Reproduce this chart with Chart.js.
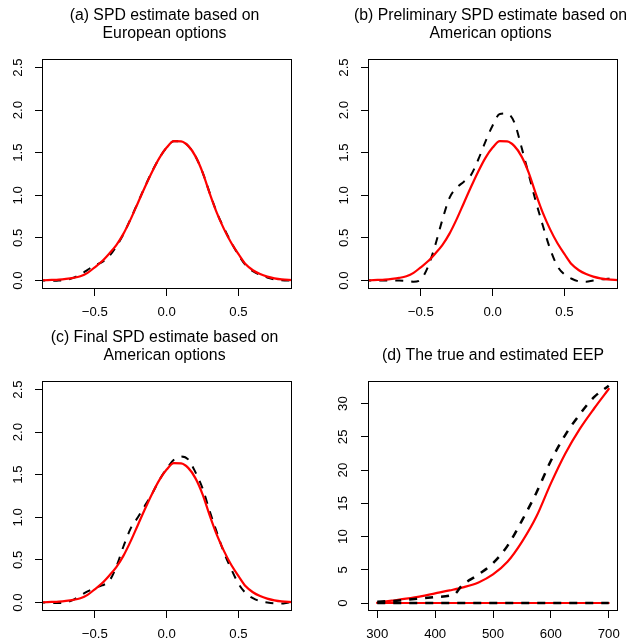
<!DOCTYPE html>
<html>
<head>
<meta charset="utf-8">
<script src="https://cdn.jsdelivr.net/npm/chart.js@4.4.1/dist/chart.umd.min.js"></script>
<style>
  html, body { margin: 0; padding: 0; background: #fff; overflow: hidden; }
  body { width: 629px; height: 644px; position: relative; }
  canvas { position: absolute; }
</style>
</head>
<body>
<canvas id="pa" width="314" height="322" style="left:0px;top:0px"></canvas>
<canvas id="pb" width="315" height="322" style="left:314px;top:0px"></canvas>
<canvas id="pc" width="314" height="322" style="left:0px;top:322px"></canvas>
<canvas id="pd" width="315" height="322" style="left:314px;top:322px"></canvas>
<script>
// ---- data ----
const spdX = [-0.90,-0.85,-0.80,-0.75,-0.70,-0.65,-0.60,-0.55,-0.50,-0.45,-0.40,-0.35,-0.30,-0.25,-0.20,-0.15,-0.10,-0.05,
  0.00,0.05,0.10,0.15,0.20,0.25,0.30,0.35,0.40,0.45,0.50,0.55,0.60,0.65,0.70,0.75,0.80,0.85,0.90];
const trueSpd = [0.002,0.003,0.006,0.010,0.018,0.030,0.050,0.090,0.155,0.225,0.315,0.415,0.550,0.720,0.910,1.100,1.280,1.440,
  1.560,1.635,1.632,1.580,1.460,1.270,1.020,0.790,0.600,0.440,0.310,0.190,0.120,0.075,0.045,0.025,0.012,0.006,0.004];
const europeanSpd = [0.000,0.000,-0.005,0.000,0.006,0.030,0.070,0.125,0.180,0.215,0.285,0.400,0.545,0.725,0.915,1.105,1.285,1.440,
  1.560,1.635,1.632,1.580,1.460,1.270,1.025,0.795,0.610,0.445,0.300,0.180,0.110,0.065,0.035,0.012,0.002,0.000,0.005];
const prelimAmericanSpd = [0.000,0.000,0.000,0.000,0.000,0.000,-0.005,-0.015,0.010,0.160,0.410,0.710,0.970,1.090,1.160,1.240,1.420,1.630,
  1.820,1.955,1.960,1.860,1.570,1.250,0.930,0.640,0.370,0.170,0.070,0.020,-0.010,-0.015,0.000,0.012,0.020,0.035,0.045];
const finalAmericanSpd = [0.000,0.000,-0.005,-0.005,0.000,0.030,0.080,0.130,0.170,0.200,0.250,0.420,0.660,0.870,1.000,1.140,1.280,1.440,
  1.570,1.675,1.715,1.680,1.530,1.340,1.070,0.820,0.580,0.390,0.220,0.110,0.050,0.015,0.000,-0.010,-0.012,0.000,0.005];

const trueStrike = [300,325,350,375,400,425,450,475,500,525,550,575,600,625,650,675,700];
const trueEep = [0.05,0.35,0.65,1.0,1.45,1.9,2.4,3.1,4.3,6.2,9.2,13.0,18.0,22.5,26.2,29.3,32.2];
const estStrike = [300,325,350,375,400,425,435,445,475,500,525,550,575,600,625,650,675,700];
const estEep = [0.2,0.3,0.5,0.7,0.9,1.1,1.4,2.5,4.3,6.0,8.6,12.4,16.6,21.4,25.3,28.4,31.0,32.7];
const zeroStrike = [300,700];
const zeroEep = [0,0];

const densityTicks = [0,0.5,1.0,1.5,2.0,2.5];
const returnTicks = [-0.5,0,0.5];
const eepTicks = [0,5,10,15,20,25,30];
const strikeTicks = [300,400,500,600,700];

const titles = {
  a: ["(a) SPD estimate based on", "European options"],
  b: ["(b) Preliminary SPD estimate based on", "American options"],
  c: ["(c) Final SPD estimate based on", "American options"],
  d: ["(d) The true and estimated EEP"]
};

// ---- helpers ----
const FONT = "'Liberation Sans', Arial, Helvetica, sans-serif";
const pts = (xs, ys) => xs.map((x, i) => ({x: x, y: ys[i]}));
const fmt1 = v => (v < 0 ? '\u2212' + Math.abs(v).toFixed(1) : v.toFixed(1));

const framePlugin = {
  id: 'frame',
  afterDatasetsDraw(chart) {
    const a = chart.chartArea, ctx = chart.ctx;
    ctx.save();
    ctx.strokeStyle = '#000';
    ctx.lineWidth = 1;
    const l = Math.round(a.left) + 0.5, t = Math.round(a.top) + 0.5;
    const r = Math.round(a.right) - 0.5, b = Math.round(a.bottom) - 0.5;
    ctx.strokeRect(l, t, r - l, b - t);
    ctx.restore();
  }
};

// panel title centred over the plot region (R "main" style), lines stacked upward from the frame
const panelTitlePlugin = {
  id: 'panelTitle',
  afterDraw(chart, args, opts) {
    const a = chart.chartArea, ctx = chart.ctx;
    const lines = opts.text || [];
    const cx = (a.left + a.right) / 2 - (lines.length > 1 ? 2.5 : 0);
    ctx.save();
    ctx.fillStyle = '#000';
    ctx.font = '15.8px ' + FONT;
    ctx.textAlign = 'center';
    ctx.textBaseline = 'middle';
    const n = lines.length;
    lines.forEach((s, i) => {
      const y = a.top - 25 - (n - 1 - i) * 18;
      ctx.fillText(s, cx, y);
    });
    ctx.restore();
  }
};

function redSet(data) {
  return { data: data, borderColor: '#ff0000', borderWidth: 2.2, showLine: true, pointRadius: 0,
    cubicInterpolationMode: 'monotone', borderCapStyle: 'round', borderJoinStyle: 'round', clip: 0, fill: false };
}
function dashSet(data, w) {
  return { data: data, borderColor: '#000000', borderWidth: w || 2, borderDash: [8, 8], showLine: true, pointRadius: 0,
    cubicInterpolationMode: 'monotone', borderCapStyle: 'butt', clip: 0, fill: false };
}

function makeChart(id, cfg) {
  const tickFont = { family: FONT, size: 13.2 };
  new Chart(document.getElementById(id), {
    type: 'scatter',
    data: { datasets: cfg.datasets },
    options: {
      responsive: false,
      animation: false,
      devicePixelRatio: 1,
      events: [],
      layout: { padding: { left: 0, right: cfg.padRight, top: 59, bottom: 0 } },
      plugins: {
        legend: { display: false },
        tooltip: { enabled: false },
        title: { display: false },
        panelTitle: { text: cfg.title }
      },
      scales: {
        x: {
          type: 'linear',
          min: cfg.xMin, max: cfg.xMax,
          grid: { display: true, drawOnChartArea: false, drawTicks: true, tickLength: 7, color: '#000', lineWidth: 1 },
          border: { display: false },
          ticks: { color: '#000', font: tickFont, padding: 8.3, maxRotation: 0, autoSkip: false, callback: cfg.xFmt },
          afterBuildTicks: s => { s.ticks = cfg.xTicks.map(v => ({ value: v })); },
          afterFit: s => { s.height = 33; }
        },
        y: {
          type: 'linear',
          min: cfg.yMin, max: cfg.yMax,
          grid: { display: true, drawOnChartArea: false, drawTicks: true, tickLength: 7, color: '#000', lineWidth: 1 },
          border: { display: false },
          ticks: { color: '#000', font: tickFont, padding: cfg.yPad, minRotation: 90, maxRotation: 90,
            crossAlign: 'center', autoSkip: false, callback: cfg.yFmt },
          afterBuildTicks: s => { s.ticks = cfg.yTicks.map(v => ({ value: v })); },
          afterFit: s => { s.width = cfg.yWidth; }
        }
      }
    },
    plugins: [framePlugin, panelTitlePlugin]
  });
}

const spdCommon = { xMin: -0.867, xMax: 0.872, yMin: -0.1, yMax: 2.6, xTicks: returnTicks, yTicks: densityTicks,
  xFmt: v => fmt1(v), yFmt: v => fmt1(v), yPad: 7.8 };

makeChart('pa', Object.assign({}, spdCommon, { title: titles.a, padRight: 22, yWidth: 42,
  datasets: [redSet(pts(spdX, trueSpd)), dashSet(pts(spdX, europeanSpd))] }));
makeChart('pb', Object.assign({}, spdCommon, { title: titles.b, padRight: 11, yWidth: 54,
  datasets: [redSet(pts(spdX, trueSpd)), dashSet(pts(spdX, prelimAmericanSpd))] }));
makeChart('pc', Object.assign({}, spdCommon, { title: titles.c, padRight: 22, yWidth: 42,
  datasets: [redSet(pts(spdX, trueSpd)), dashSet(pts(spdX, finalAmericanSpd))] }));
makeChart('pd', { title: titles.d, padRight: 11, yWidth: 54, xMin: 284, xMax: 716, yMin: -1.2, yMax: 33.4,
  xTicks: strikeTicks, yTicks: eepTicks, xFmt: v => String(v), yFmt: v => String(v), yPad: 10.7,
  datasets: [dashSet(pts(zeroStrike, zeroEep), 2.5), dashSet(pts(estStrike, estEep), 2.5),
             redSet(pts(zeroStrike, zeroEep)), redSet(pts(trueStrike, trueEep))] });
</script>
</body>
</html>
